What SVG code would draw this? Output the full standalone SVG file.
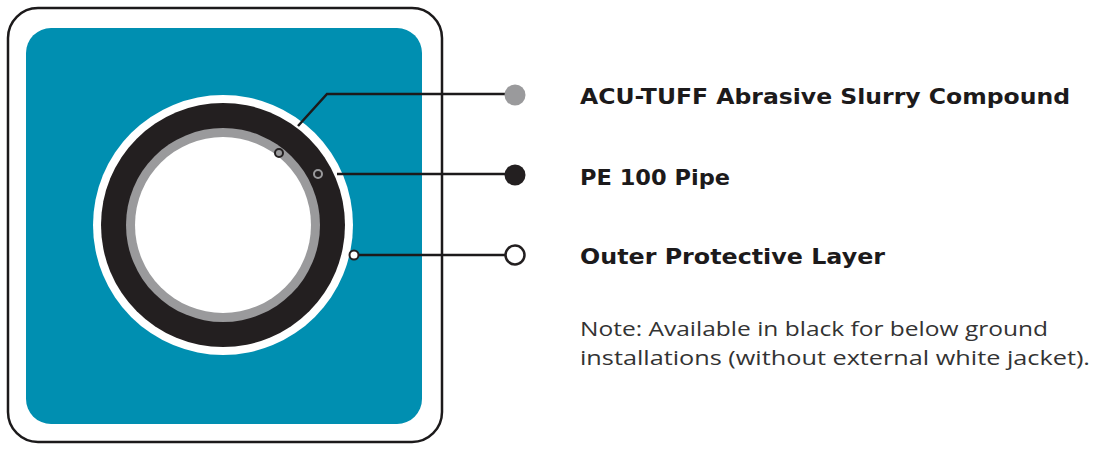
<svg xmlns="http://www.w3.org/2000/svg" width="1105" height="450" viewBox="0 0 1105 450">
<style>
.lbl{font-family:"DejaVu Sans","Open Sans",sans-serif;font-weight:bold;font-size:22px;fill:#1c1a1b}
.note{font-family:"Open Sans","DejaVu Sans",sans-serif;font-size:20px;fill:#333}
.ln{fill:none;stroke:#1c1a1b;stroke-width:2.5}
</style>
<g id="frame">
<rect x="8" y="8" width="434" height="434" rx="30" fill="#fff" stroke="#1c1a1b" stroke-width="2.5"/>
<rect x="26" y="28" width="396" height="396" rx="25" fill="#008fb1"/>
</g>
<g id="pipe">
<circle cx="223" cy="225" r="130" fill="#fff"/>
<circle cx="223" cy="225" r="122" fill="#231f20"/>
<circle cx="223" cy="225" r="97" fill="#9a9a9c"/>
<circle cx="223" cy="225" r="88" fill="#fff"/>
</g>
<g id="connectors">
<polyline class="ln" points="298,126 327,94 515,94"/>
<line class="ln" x1="337" y1="174" x2="515" y2="174"/>
<line class="ln" x1="354" y1="255" x2="515" y2="255"/>
<circle cx="279" cy="153" r="4" fill="#9a9a9c" stroke="#231f20" stroke-width="2"/>
<circle cx="318" cy="174" r="4" fill="#231f20" stroke="#9a9a9c" stroke-width="2"/>
<circle cx="354" cy="255" r="4.5" fill="#fff" stroke="#231f20" stroke-width="2"/>
</g>
<g id="n1"><circle cx="515" cy="95" r="10.5" fill="#9a9a9c"/><text class="lbl" x="580" y="104" textLength="490" lengthAdjust="spacingAndGlyphs">ACU-TUFF Abrasive Slurry Compound</text></g>
<g id="n2"><circle cx="515" cy="175" r="10.5" fill="#231f20"/><text class="lbl" x="580" y="185" textLength="150" lengthAdjust="spacingAndGlyphs">PE 100 Pipe</text></g>
<g id="n3"><circle cx="515" cy="255" r="9.5" fill="#fff" stroke="#231f20" stroke-width="2.5"/><text class="lbl" x="580" y="264" textLength="305" lengthAdjust="spacingAndGlyphs">Outer Protective Layer</text></g>
<g id="note"><text class="note" x="580" y="336" textLength="468" lengthAdjust="spacingAndGlyphs">Note: Available in black for below ground</text><text class="note" x="580" y="365" textLength="510" lengthAdjust="spacingAndGlyphs">installations (without external white jacket).</text></g>
</svg>
